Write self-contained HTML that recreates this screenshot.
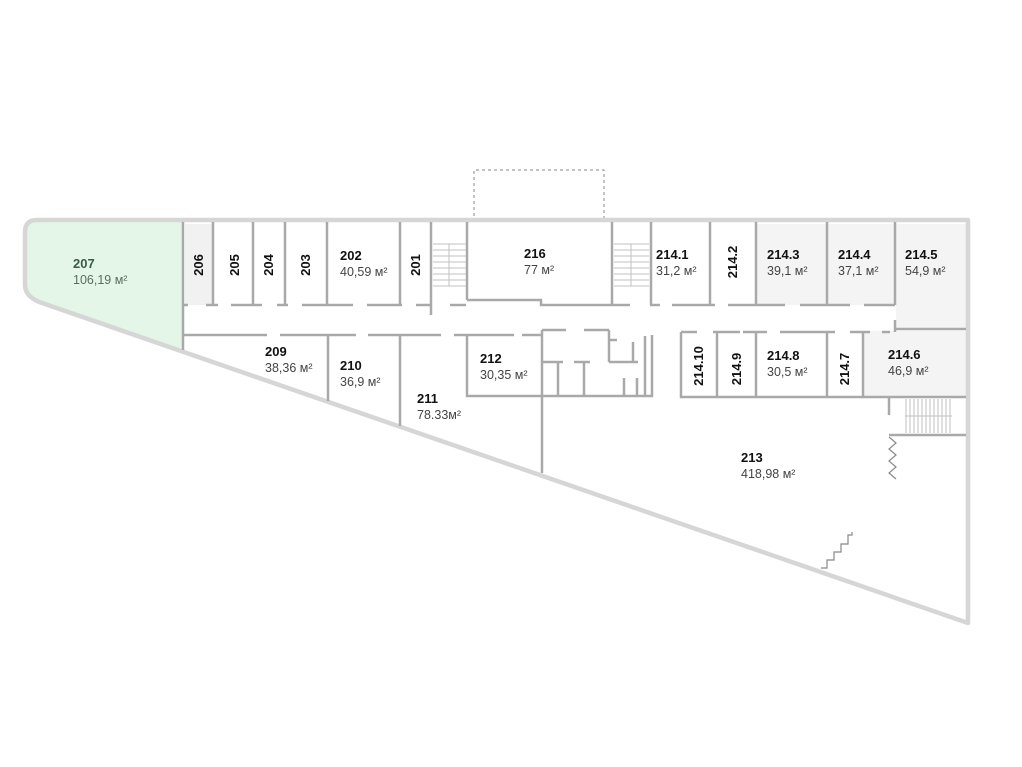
<!DOCTYPE html>
<html><head><meta charset="utf-8"><style>
html,body{margin:0;padding:0;background:#fff;width:1022px;height:767px;overflow:hidden}
svg{display:block}
text{font-family:"Liberation Sans",sans-serif}
.b{font-weight:bold;font-size:13px;fill:#111}
.a{font-size:12.5px;fill:#444}
</style></head><body>
<svg width="1022" height="767" viewBox="0 0 1022 767" xmlns="http://www.w3.org/2000/svg">
<path d="M37,222 L183,222 L183,350 L45,304 Q25,298 25,285 L25,234 Q25,222 37,222 Z" fill="#e4f6e8"/>
<rect x="185" y="224" width="28" height="81" fill="#f1f1f1"/>
<rect x="756" y="224" width="139" height="81" fill="#f4f4f4"/>
<rect x="896" y="224" width="70" height="106" fill="#f4f4f4"/>
<rect x="864" y="331" width="102" height="65" fill="#f4f4f4"/>
<path d="M474,222 L474,170 L604,170 L604,222" fill="none" stroke="#888" stroke-width="1" stroke-dasharray="3,3"/>
<path d="M37,220 L968,220 L968,623 L45,304 Q25,298 25,285 L25,232 Q25,220 37,220 Z" fill="none" stroke="#d6d6d6" stroke-width="4.5" stroke-linejoin="round"/>
<g stroke="#a9a9a9" stroke-width="2.5" fill="none">
<path d="M183,222V350 M213,222V305 M253,222V305 M285,222V305 M327,222V305 M400,222V305 M431,222V315 M467,222V300 M612,222V305 M651,222V305 M710,222V305 M756,222V305 M827,222V305 M895,222V305"/>
<path d="M183,305H188 M206,305H218 M231,305H262 M277,305H288 M302,305H353 M367,305H402 M416,305H431 M450,305H466 M467,300H541V305H612 M612,305H630 M650,305H660 M672,305H715 M728,305H785 M800,305H850 M864,305H895"/>
<path d="M183,335H267 M280,335H356 M368,335H441 M454,335H514 M522,335H542"/>
<path d="M328,335V401 M400,335V426 M542,396V473"/>
<path d="M467,335V396H652V335 M542,330V396 M542,330H566 M584,330H609 M609,330V362 M609,340H617 M542,362H563 M574,362H590 M609,362H638 M633,342V362 M645,336V396 M558,362V396 M584,362V396 M624,378V396 M637,378V396"/>
<path d="M681,332V397H966 M681,332H697 M713,332H740 M743,332H767 M780,332H835 M850,332H870 M882,332H890 M717,332V397 M756,332V397 M827,332V397 M863,332V397 M895,320V332 M896,329H966"/>
<path d="M889,398V415 M889,435H966"/>
</g>
<g stroke="#c2c2c2" stroke-width="1">
<path d="M433,244H466 M433,250H466 M433,256H466 M433,262H466 M433,268H466 M433,274H466 M433,280H466 M433,286H466 M449,244V286"/>
<path d="M614,244H649 M614,250H649 M614,256H649 M614,262H649 M614,268H649 M614,274H649 M614,280H649 M614,286H649 M631,244V286"/>
<path d="M906,399V433 M910,399V433 M914,399V433 M918,399V433 M922,399V433 M926,399V433 M930,399V433 M934,399V433 M938,399V433 M942,399V433 M946,399V433 M950,399V433 M905,416H952"/>
</g>
<path d="M889,437 L896,443 L889,449 L896,455 L889,461 L896,467 L889,473 L896,479" fill="none" stroke="#888" stroke-width="1.2"/>
<path d="M821,568 L827,568 L827,560 L834,560 L834,552 L841,552 L841,544 L848,544 L848,535 L852,535 L852,532" fill="none" stroke="#888" stroke-width="1.2"/>
<text x="73" y="268" class="b" style="fill:#3d5c45">207</text>
<text x="73" y="284" class="a" style="fill:#5a6f5f">106,19 м²</text>
<g class="b">
<text transform="translate(203,265) rotate(-90)" text-anchor="middle">206</text>
<text transform="translate(239,265) rotate(-90)" text-anchor="middle">205</text>
<text transform="translate(273,265) rotate(-90)" text-anchor="middle">204</text>
<text transform="translate(310,265) rotate(-90)" text-anchor="middle">203</text>
<text transform="translate(420,265) rotate(-90)" text-anchor="middle">201</text>
<text transform="translate(737,262) rotate(-90)" text-anchor="middle">214.2</text>
<text transform="translate(703,366) rotate(-90)" text-anchor="middle">214.10</text>
<text transform="translate(741,369) rotate(-90)" text-anchor="middle">214.9</text>
<text transform="translate(849,369) rotate(-90)" text-anchor="middle">214.7</text>
</g>
<text x="340" y="260" class="b">202</text><text x="340" y="276" class="a">40,59 м²</text>
<text x="524" y="258" class="b">216</text><text x="524" y="274" class="a">77 м²</text>
<text x="656" y="259" class="b">214.1</text><text x="656" y="275" class="a">31,2 м²</text>
<text x="767" y="259" class="b">214.3</text><text x="767" y="275" class="a">39,1 м²</text>
<text x="838" y="259" class="b">214.4</text><text x="838" y="275" class="a">37,1 м²</text>
<text x="905" y="259" class="b">214.5</text><text x="905" y="275" class="a">54,9 м²</text>
<text x="265" y="356" class="b">209</text><text x="265" y="372" class="a">38,36 м²</text>
<text x="340" y="370" class="b">210</text><text x="340" y="386" class="a">36,9 м²</text>
<text x="417" y="403" class="b">211</text><text x="417" y="419" class="a">78.33м²</text>
<text x="480" y="363" class="b">212</text><text x="480" y="379" class="a">30,35 м²</text>
<text x="767" y="360" class="b">214.8</text><text x="767" y="376" class="a">30,5 м²</text>
<text x="888" y="359" class="b">214.6</text><text x="888" y="375" class="a">46,9 м²</text>
<text x="741" y="462" class="b">213</text><text x="741" y="478" class="a">418,98 м²</text>
</svg>
</body></html>
